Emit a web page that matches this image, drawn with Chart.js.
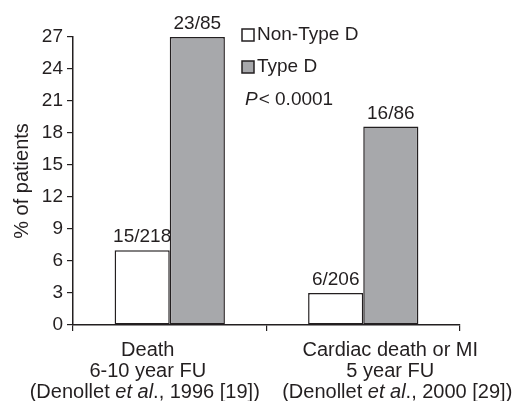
<!DOCTYPE html>
<html>
<head>
<meta charset="utf-8">
<script src="https://cdn.jsdelivr.net/npm/chart.js@4.4.1/dist/chart.umd.min.js"></script>
<style>
html,body{margin:0;padding:0;background:#fff;}
#wrap{width:518px;height:401px;position:relative;}
</style>
</head>
<body>
<div id="wrap"><canvas id="c" width="518" height="401"></canvas></div>
<script>
const categories = ["Death", "Cardiac death or MI"];
const categorySub = ["6-10 year FU", "5 year FU"];
const categoryRef = [["(Denollet ", "et al", "., 1996 [19])"], ["(Denollet ", "et al", "., 2000 [29])"]];
const seriesNames = ["Non-Type D", "Type D"];
const nonTypeD = [7.0, 3.0];
const typeD = [27.0, 18.6];
const nonTypeDLabels = ["15/218", "6/206"];
const typeDLabels = ["23/85", "16/86"];
const yTicks = [0, 3, 6, 9, 12, 15, 18, 21, 24, 27];
const pText = ["P", "< 0.0001"];

const INK = '#231f20';
const GRAY = '#a7a8ab';
const FONT = 'Liberation Sans, Arial, Helvetica, sans-serif';

const labelPlugin = {
  id: 'barLabels',
  afterDatasetsDraw(chart) {
    const ctx = chart.ctx;
    const lbls = [nonTypeDLabels, typeDLabels];
    ctx.save();
    ctx.fillStyle = INK;
    ctx.font = '19px ' + FONT;
    ctx.textAlign = 'center';
    ctx.textBaseline = 'alphabetic';
    chart.data.datasets.forEach((ds, di) => {
      const meta = chart.getDatasetMeta(di);
      meta.data.forEach((bar, i) => {
        ctx.fillText(lbls[di][i], bar.x, bar.y - 8);
      });
    });
    ctx.restore();
  }
};

const xLabelPlugin = {
  id: 'xLabels',
  afterDraw(chart) {
    const ctx = chart.ctx;
    const xs = chart.scales.x;
    const y0 = xs.top;
    const shift = [-22, 27];
    const shift3 = [-25, 34];
    ctx.save();
    ctx.fillStyle = INK;
    ctx.textBaseline = 'middle';
    categories.forEach((cat, i) => {
      const cx = xs.getPixelForValue(i) + shift[i];
      ctx.font = '20px ' + FONT;
      ctx.textAlign = 'center';
      ctx.fillText(cat, cx, y0 + 25);
      ctx.fillText(categorySub[i], cx, y0 + 46);
      const parts = categoryRef[i];
      const fonts = ['20px ' + FONT, 'italic 20px ' + FONT, '20px ' + FONT];
      let total = 0;
      const ws = parts.map((p, k) => { ctx.font = fonts[k]; const w = ctx.measureText(p).width; total += w; return w; });
      let x = xs.getPixelForValue(i) + shift3[i] - total / 2;
      ctx.textAlign = 'left';
      parts.forEach((p, k) => { ctx.font = fonts[k]; ctx.fillText(p, x, y0 + 67); x += ws[k]; });
    });
    ctx.restore();
  }
};

const legendPlugin = {
  id: 'customLegend',
  afterDraw(chart) {
    const ctx = chart.ctx;
    const area = chart.chartArea;
    const lx = area.left + 169;
    const items = [{fill: '#fff'}, {fill: GRAY}];
    ctx.save();
    ctx.textBaseline = 'middle';
    ctx.textAlign = 'left';
    ctx.font = '19px ' + FONT;
    seriesNames.forEach((name, i) => {
      const cy = 35 + i * 32;
      ctx.fillStyle = items[i].fill;
      ctx.fillRect(lx, cy - 6, 12, 12);
      ctx.strokeStyle = INK;
      ctx.lineWidth = 1.5;
      ctx.strokeRect(lx, cy - 6, 12, 12);
      ctx.fillStyle = INK;
      ctx.fillText(name, lx + 15, cy);
    });
    const py = 100;
    ctx.font = 'italic 19px ' + FONT;
    ctx.fillText(pText[0], lx + 3, py);
    const pw = ctx.measureText(pText[0]).width;
    ctx.font = '19px ' + FONT;
    ctx.fillText(pText[1], lx + 3 + pw + 1, py);
    ctx.restore();
  }
};

new Chart(document.getElementById('c'), {
  type: 'bar',
  data: {
    labels: categories,
    datasets: [
      { label: seriesNames[0], data: nonTypeD, backgroundColor: '#fff', borderColor: INK, borderWidth: 1.5, borderSkipped: false },
      { label: seriesNames[1], data: typeD, backgroundColor: GRAY, borderColor: INK, borderWidth: 1.5, borderSkipped: false }
    ]
  },
  options: {
    responsive: false,
    animation: false,
    devicePixelRatio: 1,
    layout: { padding: { top: 37, right: 58, left: 0, bottom: 0 } },
    datasets: { bar: { categoryPercentage: 0.57, barPercentage: 1.0 } },
    plugins: { legend: { display: false }, tooltip: { enabled: false } },
    scales: {
      x: {
        type: 'category',
        grid: { drawOnChartArea: false, offset: true, tickLength: 6, color: INK, lineWidth: 1.2 },
        border: { color: INK, width: 1.5 },
        ticks: { display: false },
        afterFit(scale) { scale.height = 76; }
      },
      y: {
        min: 0, max: 27,
        afterBuildTicks(scale) { scale.ticks = yTicks.map(v => ({ value: v })); },
        ticks: { color: INK, font: { size: 19, family: FONT }, padding: 4 },
        grid: { drawOnChartArea: false, tickLength: 6, color: INK, lineWidth: 1.2 },
        border: { color: INK, width: 1.5 },
        title: { display: true, text: '% of patients', color: INK, font: { size: 20, family: FONT }, padding: { top: 10, bottom: 0 } },
        afterFit(scale) { scale.width = 73; }
      }
    }
  },
  plugins: [labelPlugin, xLabelPlugin, legendPlugin]
});
</script>
</body>
</html>
